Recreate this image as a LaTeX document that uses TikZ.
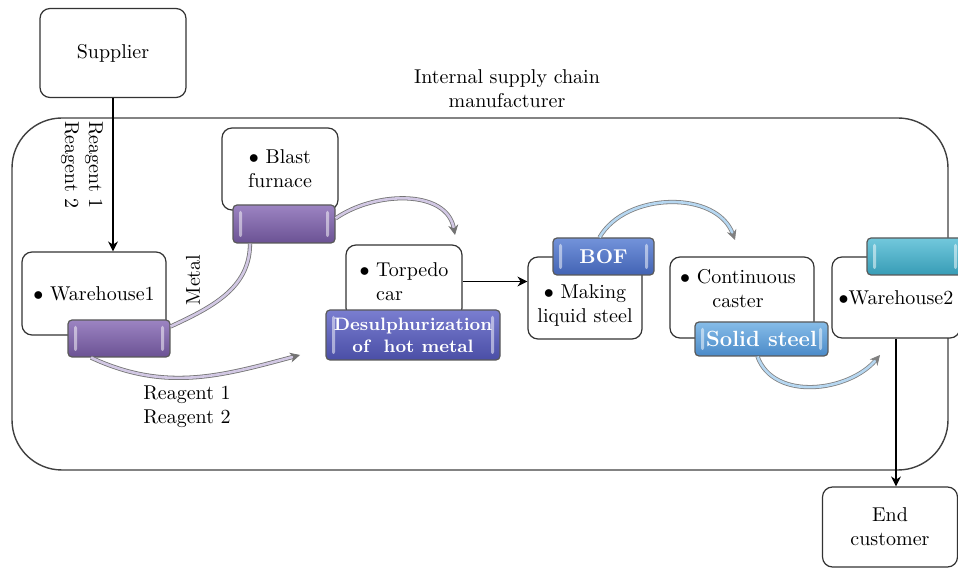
\documentclass[tikz,border=0pt]{standalone}
\usepackage{amsmath}
\usepackage{amssymb}
\usetikzlibrary{arrows.meta}

\definecolor{purpA}{HTML}{9C84C2}
\definecolor{purpB}{HTML}{6B5294}
\definecolor{indA}{HTML}{7A7ED0}
\definecolor{indB}{HTML}{4A4EA6}
\definecolor{bofA}{HTML}{7393DA}
\definecolor{bofB}{HTML}{4263B4}
\definecolor{solA}{HTML}{86BCE8}
\definecolor{solB}{HTML}{4A8AC8}
\definecolor{tealA}{HTML}{72C8DC}
\definecolor{tealB}{HTML}{379CB6}

\tikzset{
  box/.style={draw=black!80,line width=.6pt,rounded corners=5pt,fill=white,align=center},
  bar/.style={draw=black!65,line width=.6pt,rounded corners=2pt,text=white,font=\bfseries,
    align=center,inner sep=0pt,
    path picture={
      \fill[white,opacity=.5,rounded corners=1pt]
        ([xshift=3pt,yshift=3pt]path picture bounding box.south west) rectangle
        ([xshift=4.5pt,yshift=-3pt]path picture bounding box.north west);
      \fill[white,opacity=.5,rounded corners=1pt]
        ([xshift=-3pt,yshift=3pt]path picture bounding box.south east) rectangle
        ([xshift=-4.5pt,yshift=-3pt]path picture bounding box.north east);}},
  pflow/.style={draw=black!55,double=purpA!45,double distance=1.3pt,line width=.4pt},
  bflow/.style={draw=black!50,double=solA!60,double distance=1.3pt,line width=.4pt},
  tip/.style={-{Stealth[length=5pt,width=5pt]}}
}

\begin{document}
\begin{tikzpicture}[x=.5pt,y=.5pt]
\useasboundingbox (0,0) rectangle (958,573);
% manufacturer frame
\draw[line width=.7pt,draw=black!75,rounded corners=25pt] (12,103) rectangle (948,455);
\node[align=center] (title) at (507,484) {Internal supply chain\\manufacturer};

\node[box,minimum width=73pt,minimum height=44.5pt] (supp) at (113,520) {Supplier};
\node[box,minimum width=72pt,minimum height=41.5pt] (wh1) at (94,279.5) {$\bullet$ Warehouse1};
\node[box,minimum width=58pt,minimum height=41pt] (bf) at (280,404) {$\bullet$ Blast\\furnace};
\node[box,minimum width=58pt,minimum height=36.5pt,align=left] (torp) at (404,291.5) {$\bullet$ Torpedo\\\phantom{$\bullet$ }car};
\node[box,minimum width=57pt,minimum height=41pt] (mak) at (585,275) {};
\node[align=center] (maktxt) at (585,267) {$\bullet$ Making\\liquid steel};
\node[box,minimum width=72pt,minimum height=40.5pt] (cc) at (742,275.5) {};
\node[align=center] (cctxt) at (738,284) {$\bullet$ Continuous\\caster};
\node[box,minimum width=61.5pt,minimum height=40.5pt] (wh2) at (896,275.5) {$\bullet$Warehouse2};
\node[box,minimum width=67.5pt,minimum height=40pt] (endc) at (890,46) {End\\customer};

% coloured bars
\node[bar,top color=purpA,bottom color=purpB,minimum width=51pt,minimum height=18.5pt] (wh1bar) at (119,234.5) {};
\node[bar,top color=purpA,bottom color=purpB,minimum width=51pt,minimum height=19pt] (bfbar) at (284,349) {};
\node[bar,top color=indA,bottom color=indB,minimum width=87pt,minimum height=25pt,font=\bfseries\small] (desbar) at (413,238) {Desulphurization\\of\ \ hot metal};
\node[bar,top color=bofA,bottom color=bofB,minimum width=50.5pt,minimum height=18.5pt] (bofbar) at (603.5,316.5) {BOF};
\node[bar,top color=solA,bottom color=solB,minimum width=66.5pt,minimum height=17pt,font=\bfseries\fontsize{11}{13}\selectfont] (solbar) at (761.5,234) {Solid steel};
\node[bar,top color=tealA,bottom color=tealB,minimum width=48pt,minimum height=18.5pt] (wh2bar) at (915,316.5) {};

% connectors
\draw[tip,line width=.6pt] (supp.south) -- (supp.south |- wh1.north);
\node[rotate=-90,align=left] (reag) at (82,408) {Reagent 1\\Reagent 2};
\draw[tip,line width=.6pt] (torp.east) -- (torp.east -| mak.west);
\draw[tip,line width=.6pt] (wh2.south) -- (wh2.south |- endc.north);

\coordinate (c1) at (300,218);
\coordinate (c2) at (455,338);
\coordinate (c3) at (735,333);
\coordinate (c4) at (880,218);
\draw[pflow] ([yshift=6pt]wh1bar.east) to[out=25,in=-90] ([xshift=-17pt]bfbar.south);
\draw[pflow,tip] ([xshift=-14pt]wh1bar.south) to[out=-25,in=195] (c1);
\draw[pflow,tip] ([yshift=-7pt]bfbar.north east) to[out=35,in=100] (c2);
\draw[bflow,tip] ([xshift=-2pt]bofbar.north) to[out=60,in=110] (c3);
\draw[bflow,tip] ([xshift=-2pt]solbar.south) to[out=-70,in=-130] (c4);

\node[rotate=90] (metal) at (193,293) {Metal};
\node[align=left] (reag2) at (187,166) {Reagent 1\\Reagent 2};
\end{tikzpicture}
\end{document}
